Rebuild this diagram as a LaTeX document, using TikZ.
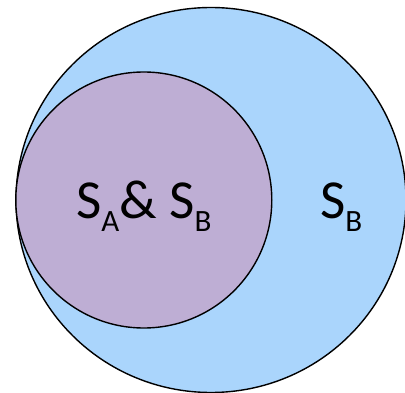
\documentclass[tikz,border=0pt]{standalone}
\usepackage{fontspec}
\setmainfont{Carlito}
\usetikzlibrary{positioning,shapes.geometric}
\definecolor{SetBlue}{HTML}{AAD5FC}
\definecolor{SetPurple}{HTML}{BEAED4}
\definecolor{Ink}{HTML}{000000}
\newcommand{\setsub}[1]{\raisebox{-13pt}{\fontsize{31}{31}\selectfont #1}}

\begin{document}
\begin{tikzpicture}[x=1pt, y=-1pt,
    setcircle/.style={circle,draw=Ink,line width=1.4pt,inner sep=0pt},
    setlabel/.style={inner sep=0pt,anchor=base west,font=\fontsize{55}{55}\selectfont}]
    \useasboundingbox (0,0) rectangle (405,393);
    \clip (0,0) rectangle (405,393);
    \node[setcircle,ellipse,fill=SetBlue,minimum width=390pt,minimum height=385pt] (sb) at (211,200) {};
    \node[setcircle,fill=SetPurple,minimum size=256pt] (sab) at (143.8,200) {};
    \node[setlabel] (lab) at (76,219) {S\setsub{A}\&\ S\setsub{B}};
    \node[setlabel] (lb) at (320,219) {S\setsub{B}};
  \end{tikzpicture}
\end{document}
